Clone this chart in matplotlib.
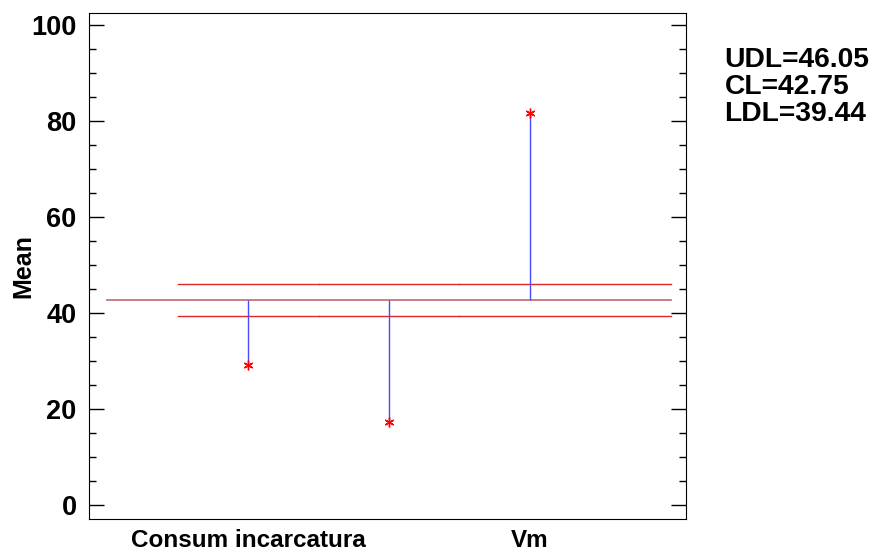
import numpy as np
from matplotlib import pyplot as plt
from matplotlib.ticker import MultipleLocator

plt.rcParams['font.family'] = ['Liberation Sans', 'DejaVu Sans']
plt.rcParams['font.weight'] = 'bold'

means = [29.2, 17.4, 81.65]
x_labels = ["Consum incarcatura", "Vm"]
x_label_pos = [1, 3]
cl = 42.75
udl = 46.05
ldl = 39.44

x = np.arange(1, len(means) + 1)

fig = plt.figure(figsize=(8.73, 5.58), dpi=100)
ax = fig.add_axes([0.102, 0.070, 0.684, 0.907])

# center line and decision limits
ax.plot([0, x[-1] + 1], [cl, cl], color="#c06868", lw=1.2)
edges = [x[0] - 0.5] + list(x[:-1] + 0.5) + [x[-1] + 1]
for lim in (udl, ldl):
    for a, b in zip(edges[:-1], edges[1:]):
        ax.plot([a, b], [lim, lim], color="#e02828", lw=1)

# group means
ax.vlines(x, cl, means, color="#4a4aff", lw=1)
ax.plot(x, means, ls="none", marker=(6, 2, 0), color="red", ms=7, mew=1)

ax.set_xlim(-0.13, 4.11)
ax.set_ylim(-2.9, 102.6)
ax.set_xticks(x_label_pos)
ax.set_xticklabels(x_labels, fontsize=17.5, fontweight="bold")
ax.tick_params(axis="x", length=0, pad=7)
ax.yaxis.set_major_locator(MultipleLocator(20))
ax.yaxis.set_minor_locator(MultipleLocator(5))
ax.tick_params(axis="y", which="both", direction="in", left=True, right=True, labelsize=19.5, pad=9)
ax.tick_params(axis="y", which="major", length=11, width=1)
ax.tick_params(axis="y", which="minor", length=5, width=1)
for lbl in ax.get_yticklabels():
    lbl.set_fontweight("bold")
ax.set_ylabel("Mean", fontsize=18, fontweight="bold")
ax.yaxis.set_label_coords(-0.09, 0.5)

fig.text(0.830, 1 - 60 / 558, "UDL=%.2f" % udl, fontsize=20.3, fontweight="bold", va="center")
fig.text(0.830, 1 - 87 / 558, "CL=%.2f" % cl, fontsize=20.3, fontweight="bold", va="center")
fig.text(0.830, 1 - 114 / 558, "LDL=%.2f" % ldl, fontsize=20.3, fontweight="bold", va="center")

fig.savefig("out.png", dpi=100)
